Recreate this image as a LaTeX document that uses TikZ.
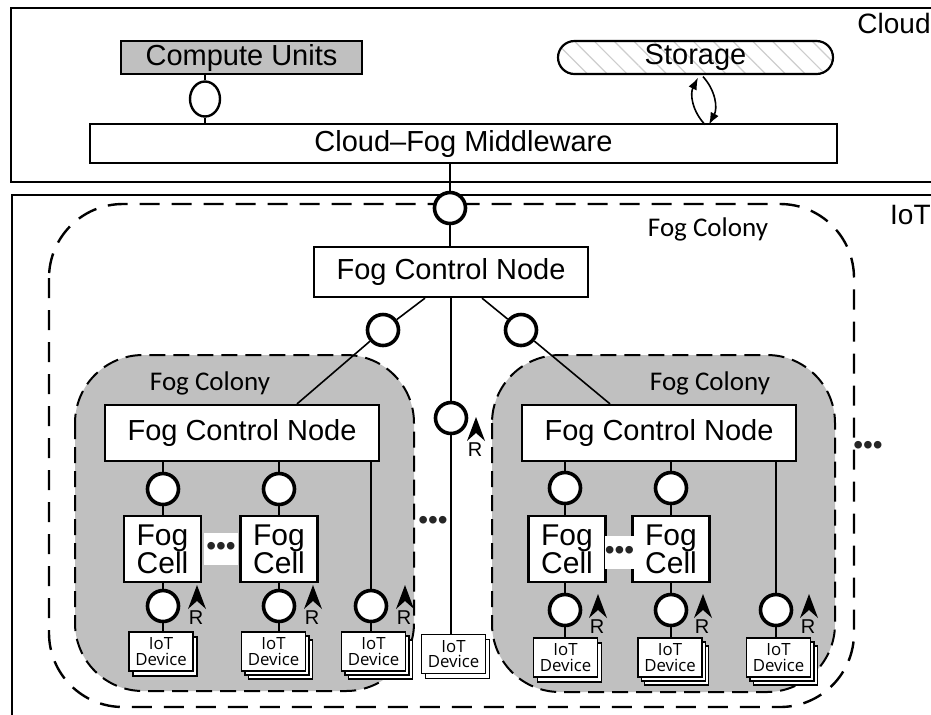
\documentclass[tikz,border=0pt]{standalone}
\usepackage{fontspec}
\setmainfont{Liberation Sans}
\newfontfamily\colonyfont{Carlito}
\newfontfamily\devicefont{Open Sans}
\usetikzlibrary{arrows.meta,shapes.geometric,shadows,patterns.meta}

\definecolor{colonygray}{RGB}{192,192,192}
\definecolor{hatchgray}{RGB}{205,205,205}

\tikzset{
  layer/.style={draw, line width=1.3pt},
  layername/.style={anchor=north east, inner sep=0pt, font=\fontsize{14}{16}\selectfont},
  unit/.style={draw, line width=1.1pt, inner sep=0pt, minimum height=16.5pt, font=\fontsize{14.5}{16}\selectfont},
  ctrl/.style={draw, line width=1.1pt, fill=white, inner sep=0pt, minimum width=137pt, minimum height=28pt, font=\fontsize{14.5}{16}\selectfont},
  cell/.style={draw, line width=1.1pt, fill=white, inner sep=0pt, minimum width=38.5pt, minimum height=33pt, align=center, font=\fontsize{15}{14}\selectfont},
  port/.style={circle, draw, line width=1.8pt, fill=white, inner sep=0pt, minimum size=15.5pt},
  device/.style={draw, line width=0.6pt, fill=white, inner sep=0pt, minimum width=32pt, minimum height=19.5pt, align=center, font=\devicefont\fontsize{8.4}{7.8}\selectfont},
  stack2/.style={device, copy shadow={shadow xshift=2pt, shadow yshift=-2.5pt}},
  stack3/.style={device, double copy shadow={shadow xshift=1.7pt, shadow yshift=-2pt}},
  colony/.style={draw, line width=1pt, dash pattern=on 8pt off 4pt, fill=colonygray, rounded corners=34pt},
  colonyname/.style={font=\colonyfont\fontsize{13.5}{15}\selectfont},
  link/.style={line width=0.8pt},
  flow/.style={line width=0.8pt, -{Latex[length=6pt,width=4.5pt]}},
  gap/.style={fill=white, inner sep=0pt, text=black!85, font=\fontsize{14}{14}\selectfont},
  rtext/.style={inner sep=0pt, font=\fontsize{10}{10}\selectfont},
}

% replica marker: arrow tip at (#1,#2), letter below it
\newcommand\rmark[2]{%
  \fill (#1,#2) -- ++(9,24) -- ++(-9,-8) -- ++(-9,8) -- cycle;
  \node[rtext] at (#1-1,#2+33) {R};}

\begin{document}
\begin{tikzpicture}[x=0.5pt, y=-0.5pt]
\useasboundingbox (0,0) rectangle (931,714);

% cloud layer
\draw[layer] (11,8) rectangle (950,182);
\node[layername] (cloud) at (931,13) {Cloud};
\node[unit, fill=colonygray, minimum width=120.5pt] (cu) at (241.5,57.5) {Compute Units};
\node[unit, rounded corners=8.25pt, pattern={Lines[angle=-45,distance=7pt,line width=0.6pt]}, pattern color=hatchgray, minimum width=137.5pt] (storage) at (695.5,57.5) {Storage};
\node[unit, fill=white, minimum width=373.5pt, minimum height=19.5pt] (mw) at (463.5,143.5) {Cloud–Fog Middleware};
\node[ellipse, draw, line width=1.2pt, fill=white, inner sep=0pt, minimum width=15pt, minimum height=17.5pt] (cup) at (205,99) {};
\draw[link] (cup) -- (cup |- cu.south);
\draw[link] (cup) -- (cup |- mw.north);
\draw[flow] ([xshift=4.75pt,yshift=-25pt]storage.south) to[bend left=35] ([xshift=1.25pt,yshift=-1.5pt]storage.south);
\draw[flow] ([xshift=3.75pt,yshift=-1pt]storage.south) to[bend left=35] ([xshift=6.75pt,yshift=-25pt]storage.south);

% IoT layer
\draw[layer] (12,195) rectangle (950,730);
\node[layername] (iot) at (931,205) {IoT};
\draw[colony, fill=none, line width=1.2pt, dash pattern=on 10pt off 6pt, rounded corners=37pt] (49,204) rectangle (854,707);
\node[colonyname] (topname) at (708,229) {Fog Colony};
\draw[colony] (75,355) rectangle (414,691);
\draw[colony] (492,355) rectangle (835,692);
\node[colonyname] (leftname) at (210,383) {Fog Colony};
\node[colonyname] (rightname) at (710,383) {Fog Colony};

% top fog control node
\node[port] (tp) at (450,208) {};
\node[ctrl, minimum height=25pt] (fcn) at (451,272) {Fog Control Node};
\node[port] (lp) at (383,330) {};
\node[port] (rp) at (521,330) {};
\node[port] (mp) at (451,418) {};
\node[stack2] (md) at (453.5,654) {IoT\\Device};

% left colony
\node[ctrl] (lfcn) at (242,433) {Fog Control Node};
\node[port] (lp1) at (163,489) {};
\node[port] (lp2) at (279,489) {};
\node[cell] (lc1) at (162.5,549) {Fog\\Cell};
\node[cell] (lc2) at (279,549) {Fog\\Cell};
\node[port] (lq1) at (163,606) {};
\node[port] (lq2) at (279,606) {};
\node[port] (lq3) at (371,606) {};
\node[stack2] (ld1) at (161,651.5) {IoT\\Device};
\node[stack3] (ld2) at (273.5,651.5) {IoT\\Device};
\node[stack3] (ld3) at (373.5,651.5) {IoT\\Device};

% right colony
\node[ctrl] (rfcn) at (659,433) {Fog Control Node};
\node[port] (rp1) at (565,488) {};
\node[port] (rp2) at (671,488) {};
\node[cell] (rc1) at (567,549) {Fog\\Cell};
\node[cell] (rc2) at (671,549) {Fog\\Cell};
\node[port] (rq1) at (565,610) {};
\node[port] (rq2) at (671,610) {};
\node[port] (rq3) at (776,610) {};
\node[stack2] (rd1) at (565.5,657.5) {IoT\\Device};
\node[stack3] (rd2) at (670,657.5) {IoT\\Device};
\node[stack3] (rd3) at (778.5,657.5) {IoT\\Device};

% dots
\node[gap, minimum width=17pt, minimum height=16pt] (lgap) at (221,549) {•••};
\node[gap, minimum width=13.5pt, minimum height=16.5pt] (rgap) at (619.5,552.5) {•••};
\node[gap, fill=none] (mgap) at (433,523) {•••};
\node[gap, fill=none] (egap) at (868,448) {•••};

% links
\draw[link] (tp) -- (tp |- mw.south);
\draw[link] (tp) -- (tp |- fcn.north);
\draw[link] ([xshift=-13pt]fcn.south) -- (lp);
\draw[link] (lp) -- ([xshift=27.5pt]lfcn.north);
\draw[link] ([xshift=15.5pt]fcn.south) -- (rp);
\draw[link] (rp) -- ([xshift=-24.5pt]rfcn.north);
\draw[link] (mp) -- (mp |- fcn.south);
\draw[link] (mp) -- (mp |- md.north);
\foreach \p/\c/\q/\d/\f in {lp1/lc1/lq1/ld1/lfcn, lp2/lc2/lq2/ld2/lfcn, rp1/rc1/rq1/rd1/rfcn, rp2/rc2/rq2/rd2/rfcn} {
  \draw[link] (\p) -- (\p |- \f.south);
  \draw[link] (\p) -- (\p |- \c.north);
  \draw[link] (\q) -- (\q |- \c.south);
  \draw[link] (\q) -- (\q |- \d.north);
}
\foreach \q/\d/\f in {lq3/ld3/lfcn, rq3/rd3/rfcn} {
  \draw[link] (\q) -- (\q |- \f.south);
  \draw[link] (\q) -- (\q |- \d.north);
}

% replicas
\rmark{197}{585} \rmark{313}{585} \rmark{405}{585}
\rmark{476}{417}
\rmark{598}{594} \rmark{703}{594} \rmark{809}{594}
\end{tikzpicture}
\end{document}
